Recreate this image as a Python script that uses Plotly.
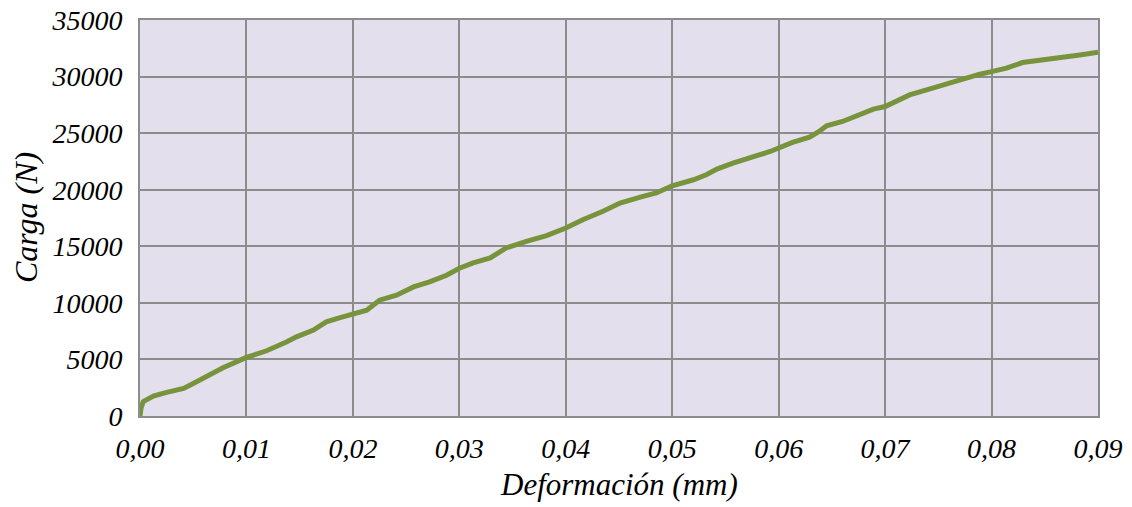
import plotly.graph_objects as go

# Load–deformation curve (deformation in mm, load in N)
deformacion = [
    0.0, 0.0001, 0.0003, 0.00125, 0.0025, 0.0041, 0.005, 0.00626, 0.0078, 0.01,
    0.0119, 0.0138, 0.0147, 0.0163, 0.0175, 0.0188, 0.02, 0.0213, 0.0219, 0.0225,
    0.0241, 0.0257, 0.0272, 0.0288, 0.03, 0.0313, 0.0329, 0.0344, 0.0363, 0.0382,
    0.04, 0.0416, 0.0435, 0.0451, 0.047, 0.0485, 0.05, 0.052, 0.0532, 0.0542,
    0.0557, 0.0576, 0.0592, 0.0613, 0.0629, 0.0638, 0.0645, 0.066, 0.0676, 0.0689,
    0.07, 0.0711, 0.0723, 0.0739, 0.0757, 0.0776, 0.0789, 0.08, 0.0814, 0.0829,
    0.0848, 0.0867, 0.0883, 0.09,
]
carga = [
    0, 700, 1265, 1765, 2090, 2440, 2880, 3530, 4265, 5180,
    5765, 6560, 7000, 7590, 8320, 8700, 9060, 9350, 9790, 10235,
    10680, 11410, 11850, 12440, 13060, 13530, 13970, 14850, 15440, 15940,
    16620, 17350, 18090, 18820, 19350, 19710, 20350, 20880, 21320, 21820,
    22350, 22880, 23380, 24180, 24650, 25150, 25650, 26030, 26620, 27120,
    27350, 27850, 28380, 28820, 29350, 29850, 30210, 30440, 30740, 31240,
    31470, 31620, 31910, 32150,
]

x_ticks = [0.00, 0.01, 0.02, 0.03, 0.04, 0.05, 0.06, 0.07, 0.08, 0.09]
x_tick_labels = ["0,00", "0,01", "0,02", "0,03", "0,04", "0,05", "0,06", "0,07", "0,08", "0,09"]
y_ticks = [0, 5000, 10000, 15000, 20000, 25000, 30000, 35000]

FONT = "Liberation Serif"
GRID = "#8c8c8c"

# plot-area geometry in pixels
W, H = 1132, 507
ML, MR, MT, MB = 140, 34, 20, 91
plot_w = W - ML - MR
plot_h = H - MT - MB

fig = go.Figure()
fig.add_trace(go.Scatter(
    x=deformacion, y=carga, mode="lines",
    line=dict(color="#77933c", width=5),
    hoverinfo="skip",
))

fig.update_layout(
    width=W, height=H,
    margin=dict(l=ML, r=MR, t=MT, b=MB, autoexpand=False),
    paper_bgcolor="white",
    plot_bgcolor="#e4dfec",
    showlegend=False,
    font=dict(family=FONT, color="black"),
    annotations=[
        dict(text="Deformación (mm)", xref="paper", yref="paper",
             x=0.5, y=(H - MB - 484) / plot_h, xanchor="center", yanchor="middle",
             showarrow=False, font=dict(family=FONT, size=31, style="italic")),
        dict(text="Carga (N)", textangle=-90, xref="paper", yref="paper",
             x=(26 - ML) / plot_w, y=(H - MB - 218) / plot_h,
             xanchor="center", yanchor="middle", showarrow=False,
             font=dict(family=FONT, size=32, style="italic")),
    ],
)

fig.update_xaxes(
    range=[0, 0.09], tickvals=x_ticks, ticktext=x_tick_labels,
    showgrid=True, gridcolor=GRID, gridwidth=2,
    showline=True, linecolor=GRID, linewidth=2, mirror=True,
    zeroline=False, ticks="", ticklabelstandoff=6, automargin=False,
    tickfont=dict(family=FONT, size=28, style="italic"),
)
fig.update_yaxes(
    range=[0, 35000], tickvals=y_ticks, ticktext=[str(v) for v in y_ticks],
    showgrid=True, gridcolor=GRID, gridwidth=2,
    showline=True, linecolor=GRID, linewidth=2, mirror=True,
    zeroline=False, ticks="", ticklabelstandoff=10, automargin=False,
    tickfont=dict(family=FONT, size=28, style="italic"),
)

fig.write_html("out.html")
